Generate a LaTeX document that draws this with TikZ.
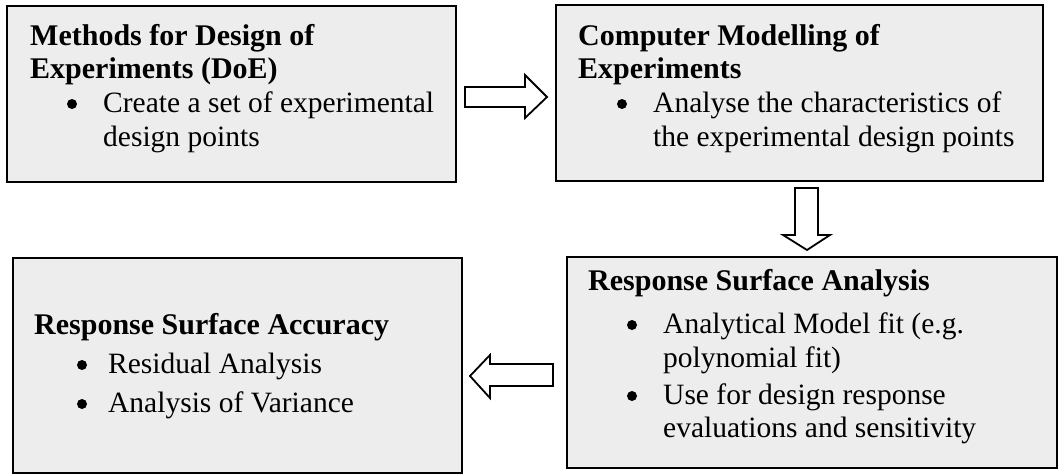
\documentclass[tikz,border=0pt]{standalone}
\usepackage{fontspec}
\setmainfont{Liberation Serif}
\begin{document}
\begin{tikzpicture}[x=1pt,y=-1pt,
  box/.style={draw=black, line width=1.7pt, fill=black!7, rectangle, inner sep=0pt},
  blockarrow/.style={draw=black, line width=1.8pt, fill=white, line join=miter},
  head/.style={anchor=base west, inner sep=0pt, font=\fontsize{30}{34}\selectfont\bfseries},
  item/.style={anchor=base west, inner sep=0pt, font=\fontsize{29.5}{34}\selectfont},
  dot/.style={circle, fill=black, inner sep=0pt, minimum size=10pt}]
\useasboundingbox (0,0) rectangle (1058,474);
\fill[white] (0,0) rectangle (1058,474);

% the four stages
\node[box, minimum width=449pt, minimum height=176pt] (doe) at (231.5,94) {};
\node[box, minimum width=487pt, minimum height=176pt] (cme) at (799.5,93) {};
\node[box, minimum width=449pt, minimum height=215pt] (rsacc) at (237.5,365.5) {};
\node[box, minimum width=490pt, minimum height=211pt] (rsa) at (812,362.5) {};

% Methods for Design of Experiments
\node[head] (doeh1) at (30,45) {Methods for Design of};
\node[head] (doeh2) at (30,78) {Experiments (DoE)};
\node[dot]  (doeb1) at (72,104) {};
\node[item] (doei1) at (103,112) {Create a set of experimental};
\node[item] (doei2) at (103,146) {design points};

% Computer Modelling of Experiments
\node[head] (cmeh1) at (578,45) {Computer Modelling of};
\node[head] (cmeh2) at (578,78) {Experiments};
\node[dot]  (cmeb1) at (622,104) {};
\node[item] (cmei1) at (653,112) {Analyse the characteristics of};
\node[item] (cmei2) at (653,146) {the experimental design points};

% Response Surface Analysis
\node[head] (rsah) at (588,290) {Response Surface Analysis};
\node[dot]  (rsab1) at (632,325) {};
\node[item] (rsai1) at (663,333) {Analytical Model fit (e.g.};
\node[item] (rsai2) at (663,367) {polynomial fit)};
\node[dot]  (rsab2) at (632,396) {};
\node[item] (rsai3) at (663,404) {Use for design response};
\node[item] (rsai4) at (663,437) {evaluations and sensitivity};

% Response Surface Accuracy
\node[head] (acch) at (34,334) {Response Surface Accuracy};
\node[dot]  (accb1) at (82,365) {};
\node[item] (acci1) at (108,373) {Residual Analysis};
\node[dot]  (accb2) at (82,404) {};
\node[item] (acci2) at (108,412) {Analysis of Variance};

% block arrows between the stages
\draw[blockarrow] (465,87) -- (525,87) -- (525,75) -- (547,97) -- (525,118)
  -- (525,107) -- (465,107) -- cycle;
\draw[blockarrow] (795,188) -- (818,188) -- (818,235) -- (830,235) -- (807,250)
  -- (783,235) -- (795,235) -- cycle;
\draw[blockarrow] (553,364) -- (490,364) -- (490,355) -- (470,376) -- (490,398)
  -- (490,386) -- (553,386) -- cycle;
\end{tikzpicture}
\end{document}
